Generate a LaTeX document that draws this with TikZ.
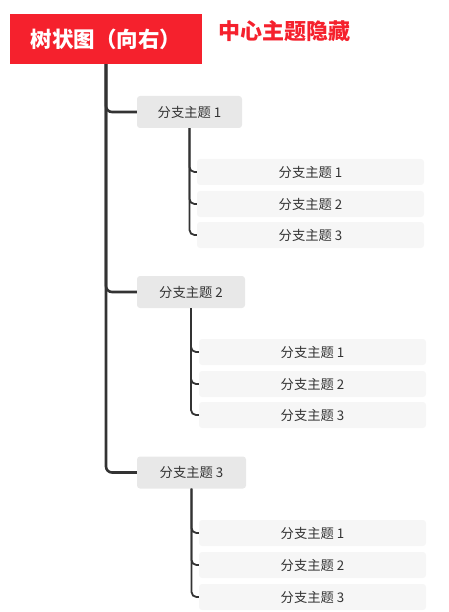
\documentclass[tikz,border=0pt]{standalone}
\usepackage{fontspec}
\setmainfont{Noto Sans CJK SC}
\usepackage{tikz}
\usetikzlibrary{positioning, calc}
\definecolor{rojito}{RGB}{245,33,45}
\definecolor{grisuno}{RGB}{232,232,232}
\definecolor{grisdos}{RGB}{246,246,246}
\definecolor{tinta}{RGB}{51,51,51}
\tikzset{
  raiz/.style={fill=rojito, draw=none, minimum width=192pt, minimum height=50pt, text=white, font=\fontsize{21.5}{25}\selectfont\bfseries},
  rama/.style={fill=grisuno, draw=none, rounded corners=3pt, minimum height=32pt, text=tinta, font=\fontsize{13.3}{16}\selectfont},
  hoja/.style={fill=grisdos, draw=none, rounded corners=3pt, minimum width=227pt, minimum height=26pt, text=tinta, font=\fontsize{13.3}{16}\selectfont},
  tronco/.style={draw=tinta, line width=2.6pt, rounded corners=6pt},
  ramita/.style={draw=tinta, line width=1.8pt, rounded corners=5pt}
}

\begin{document}
\begin{tikzpicture}[x=1pt, y=-1pt]
			\useasboundingbox (0,0) rectangle (448,612);
			
			\node [raiz] (root) at (106,39) {树状图（向右）};
			\node [text=rojito, font=\fontsize{22}{26}\selectfont\bfseries] (aviso) at (284.5,31) {中心主题隐藏};
			
			\node [rama, minimum width=105pt] (b1) at (189.5,112) {分支主题 1};
			\node [rama, minimum width=108pt] (b2) at (191,292) {分支主题 2};
			\node [rama, minimum width=109pt] (b3) at (191.5,472.5) {分支主题 3};
			
			\node [hoja] (b1h1) at (310.5,172) {分支主题 1};
			\node [hoja] (b1h2) at (310.5,204) {分支主题 2};
			\node [hoja] (b1h3) at (310.5,235) {分支主题 3};
			
			\node [hoja] (b2h1) at (312.5,352) {分支主题 1};
			\node [hoja] (b2h2) at (312.5,384) {分支主题 2};
			\node [hoja] (b2h3) at (312.5,415) {分支主题 3};
			
			\node [hoja] (b3h1) at (312.5,533) {分支主题 1};
			\node [hoja] (b3h2) at (312.5,565) {分支主题 2};
			\node [hoja] (b3h3) at (312.5,597) {分支主题 3};
			
			% trunk
			\draw [tronco] (root.south) |- (b1.west);
			\draw [tronco] (root.south) |- (b2.west);
			\draw [tronco] (root.south) |- (b3.west);
			
			% sub-branches
			\foreach \b in {b1,b2,b3}{
				\draw [ramita] (\b.south) |- (\b h1.west);
				\draw [ramita] (\b.south) |- (\b h2.west);
				\draw [ramita] (\b.south) |- (\b h3.west);
			}
	\end{tikzpicture}
\end{document}
